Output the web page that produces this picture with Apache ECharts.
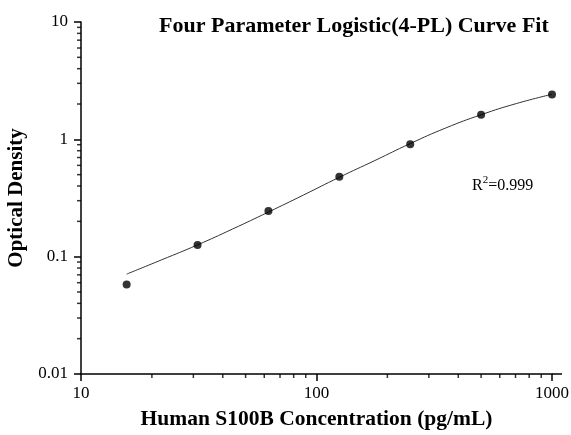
<!DOCTYPE html>
<html><head><meta charset="utf-8">
<script src="https://cdn.jsdelivr.net/npm/echarts@6/dist/echarts.min.js"></script>
<style>html,body{margin:0;padding:0;background:#fff}#c{width:571px;height:435px}</style>
</head><body><div id="c"></div>
<script>
var concentrations = [15.625, 31.25, 62.5, 125, 250, 500, 1000];
var odValues = [0.058, 0.126, 0.245, 0.48, 0.91, 1.62, 2.41];
var curveX = [15.625, 22, 31.25, 44, 62.5, 88, 125, 177, 250, 354, 500, 707, 1000];
var curveY = [0.071, 0.094, 0.126, 0.172, 0.240, 0.335, 0.475, 0.660, 0.920, 1.250, 1.620, 2.020, 2.420];
var xMinorTicks = [20,30,40,50,60,70,80,90,200,300,400,500,600,700,800,900];
var yMinorTicks = [0.02,0.03,0.04,0.05,0.06,0.07,0.08,0.09,0.2,0.3,0.4,0.5,0.6,0.7,0.8,0.9,2,3,4,5,6,7,8,9];
var titleText = 'Four Parameter Logistic(4-PL) Curve Fit';
var xName = 'Human S100B Concentration (pg/mL)';
var yName = 'Optical Density';

var FONT = '"Liberation Serif", "Times New Roman", serif';
var chart = echarts.init(document.getElementById('c'), null, {renderer: 'canvas'});
var option = {
  animation: false,
  backgroundColor: '#fff',
  title: {
    text: titleText, left: 154, top: 10,
    textStyle: {fontFamily: FONT, fontSize: 22, fontWeight: 'bold', color: '#000'}
  },
  grid: {left: 81, right: 19, top: 22, bottom: 61, containLabel: false, outerBoundsMode: 'none'},
  xAxis: {
    type: 'log', logBase: 10, min: 10, max: 1000,
    name: xName, nameLocation: 'middle', nameGap: 34,
    nameTextStyle: {fontFamily: FONT, fontSize: 21.5, fontWeight: 'bold', color: '#000'},
    axisLine: {lineStyle: {color: '#000', width: 1.5}},
    axisTick: {inside: false, length: 7, lineStyle: {color: '#000', width: 1.5}},
    axisLabel: {fontFamily: FONT, fontSize: 17, color: '#000', margin: 11,
      formatter: function (v) { return String(+(+v).toPrecision(3)); }},
    splitLine: {show: false}
  },
  yAxis: {
    type: 'log', logBase: 10, min: 0.01, max: 10,
    name: yName, nameLocation: 'middle', nameGap: 49, nameRotate: 90,
    nameTextStyle: {fontFamily: FONT, fontSize: 21, fontWeight: 'bold', color: '#000'},
    axisLine: {lineStyle: {color: '#000', width: 1.5}},
    axisTick: {inside: false, length: 7, lineStyle: {color: '#000', width: 1.5}},
    axisLabel: {fontFamily: FONT, fontSize: 17, color: '#000', margin: 13,
      formatter: function (v) { return String(+(+v).toPrecision(3)); }},
    splitLine: {show: false}
  },
  graphic: [
    {
      type: 'text', left: 472, top: 175,
      style: {
        text: '{r|R}{s|2}{r|=0.999}',
        rich: {
          r: {fontFamily: FONT, fontSize: 16, fill: '#000', verticalAlign: 'bottom'},
          s: {fontFamily: FONT, fontSize: 11, fill: '#000', verticalAlign: 'top', padding: [0,0,8,0]}
        }
      }
    },
    {
      type: 'line', silent: true,
      shape: {x1: 552, y1: 374, x2: 562, y2: 374},
      style: {stroke: '#000', lineWidth: 1.5}
    }
  ],
  series: [
    {
      type: 'line', data: curveX.map(function (x, i) { return [x, curveY[i]]; }),
      smooth: true, showSymbol: false, symbol: 'none',
      lineStyle: {color: '#333', width: 1}, z: 2
    },
    {
      type: 'scatter', data: concentrations.map(function (x, i) { return [x, odValues[i]]; }),
      symbol: 'circle', symbolSize: 8, itemStyle: {color: '#000'}, z: 3, clip: false
    },
    {
      type: 'scatter', data: xMinorTicks.map(function (x) { return [x, 0.01]; }),
      symbol: 'rect', symbolSize: [1.5, 4], symbolOffset: [0, 2], clip: false,
      itemStyle: {color: '#000'}, silent: true
    },
    {
      type: 'scatter', data: yMinorTicks.map(function (y) { return [10, y]; }),
      symbol: 'rect', symbolSize: [4, 1.5], symbolOffset: [-2, 0], clip: false,
      itemStyle: {color: '#000'}, silent: true
    }
  ]
};
chart.setOption(option);
</script></body></html>
